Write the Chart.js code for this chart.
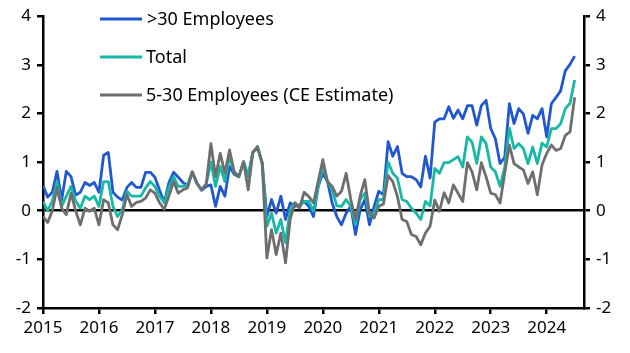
<!DOCTYPE html>
<html>
<head>
<meta charset="utf-8">
<script src="https://cdn.jsdelivr.net/npm/chart.js@4/dist/chart.umd.min.js"></script>
<style>
  html, body { margin: 0; padding: 0; background: #fff; }
  #wrap { width: 630px; height: 353px; }
</style>
</head>
<body>
<div id="wrap"><canvas id="grafico"></canvas></div>
<script>
// Meses desde enero 2015 (0 = ene-2015)
const startYear = 2015;
const yearTicks = [2015, 2016, 2017, 2018, 2019, 2020, 2021, 2022, 2023, 2024];
const yTicks = [-2, -1, 0, 1, 2, 3, 4];

const seriesNames = ['>30 Employees', 'Total', '5-30 Employees (CE Estimate)'];

const big = [
  0.52, 0.28, 0.38, 0.81, 0.22, 0.81, 0.70, 0.32, 0.38, 0.58, 0.52, 0.58,
  0.38, 1.14, 1.20, 0.38, 0.28, 0.22, 0.48, 0.58, 0.48, 0.48, 0.79, 0.79,
  0.69, 0.42, 0.17, 0.58, 0.79, 0.69, 0.58, 0.52, 0.79, 0.56, 0.42, 0.50,
  0.53, 0.09, 0.50, 0.30, 0.91, 0.75, 0.70, 1.00, 0.72, 1.20, 1.30, 0.98,
  -0.12, 0.23, -0.05, 0.30, -0.18, 0.16, 0.09, 0.12, 0.19, 0.09, -0.12, 0.50,
  0.77, 0.60, 0.16, -0.12, -0.29, -0.05, 0.09, -0.49, 0.02, 0.23, -0.29, 0.09,
  0.40, 0.33, 1.42, 1.12, 1.32, 0.77, 0.70, 0.70, 0.64, 0.49, 1.12, 0.67,
  1.82, 1.89, 1.89, 2.14, 1.90, 2.07, 1.89, 2.16, 2.16, 1.76, 2.16, 2.27,
  1.69, 1.48, 0.97, 1.10, 2.20, 1.79, 2.10, 1.99, 1.59, 1.96, 1.89, 2.10,
  1.52, 2.20, 2.33, 2.47, 2.88, 3.01, 3.18
];
const total = [
  0.19, 0.00, 0.20, 0.60, 0.09, 0.30, 0.50, 0.20, 0.05, 0.30, 0.23, 0.30,
  0.09, 0.60, 0.60, 0.09, -0.12, 0.02, 0.40, 0.30, 0.30, 0.30, 0.47, 0.60,
  0.50, 0.30, 0.17, 0.47, 0.70, 0.50, 0.50, 0.53, 0.80, 0.57, 0.43, 0.55,
  1.00, 0.50, 0.91, 0.60, 1.12, 0.78, 0.70, 1.01, 0.70, 1.20, 1.32, 0.98,
  -0.32, -0.05, -0.46, -0.18, -0.66, 0.02, 0.16, 0.09, 0.19, 0.19, -0.01, 0.50,
  0.91, 0.60, 0.43, 0.10, 0.09, 0.23, 0.09, -0.29, 0.23, 0.36, -0.12, -0.05,
  0.23, 0.23, 1.00, 0.77, 0.67, 0.23, 0.19, 0.05, -0.05, -0.18, 0.19, 0.10,
  0.87, 0.77, 0.99, 0.99, 1.05, 1.11, 0.90, 1.52, 1.41, 0.97, 1.52, 1.38,
  0.90, 0.80, 0.50, 0.90, 1.70, 1.28, 1.38, 1.28, 0.97, 1.31, 0.97, 1.39,
  1.31, 1.69, 1.69, 1.79, 2.10, 2.21, 2.69
];
const small = [
  -0.12, -0.24, 0.00, 0.47, 0.05, -0.08, 0.36, 0.00, -0.29, 0.05, -0.01, 0.05,
  -0.29, 0.23, 0.16, -0.29, -0.39, -0.08, 0.33, 0.09, 0.17, 0.19, 0.26, 0.43,
  0.36, 0.16, 0.03, 0.30, 0.60, 0.36, 0.43, 0.47, 0.80, 0.57, 0.43, 0.55,
  1.38, 0.70, 1.18, 0.77, 1.25, 0.80, 0.70, 1.01, 0.43, 1.20, 1.32, 0.98,
  -0.97, -0.39, -0.90, -0.46, -1.07, -0.18, 0.16, 0.05, 0.38, 0.29, 0.16, 0.60,
  1.05, 0.60, 0.50, 0.30, 0.40, 0.77, 0.23, -0.18, 0.30, 0.64, -0.05, -0.15,
  0.09, 0.14, 0.72, 0.60, 0.29, -0.18, -0.22, -0.49, -0.53, -0.70, -0.46, -0.32,
  0.22, -0.01, 0.37, 0.16, 0.53, 0.36, 0.19, 0.99, 0.80, 0.43, 0.99, 0.70,
  0.36, 0.33, 0.16, 0.77, 1.35, 0.97, 0.90, 0.84, 0.56, 0.80, 0.33, 0.94,
  1.18, 1.35, 1.24, 1.28, 1.55, 1.62, 2.33
];

const colores = ['#2157D0', '#17B8A6', '#6E6E6E'];
const FONT = '"Noto Sans", "Open Sans", sans-serif';

function toPoints(arr) {
  return arr.map((v, i) => ({ x: i, y: v }));
}

// leyenda a mano, arriba a la izquierda
const leyenda = {
  id: 'leyenda',
  afterDraw(chart) {
    const ctx = chart.ctx;
    const ys = [19, 57, 95];
    ctx.save();
    ctx.font = '18px ' + FONT;
    ctx.textBaseline = 'middle';
    seriesNames.forEach((name, i) => {
      ctx.strokeStyle = colores[i];
      ctx.lineWidth = 3;
      ctx.beginPath();
      ctx.moveTo(100, ys[i]);
      ctx.lineTo(142, ys[i]);
      ctx.stroke();
      ctx.fillStyle = '#000';
      ctx.fillText(name, i === 0 ? 147 : 146, ys[i] + 1);
    });
    ctx.restore();
  }
};

const ejeY = (pos) => ({
  position: pos,
  min: -2,
  max: 4,
  afterBuildTicks: (s) => { s.ticks = yTicks.map(v => ({ value: v })); },
  afterFit: (s) => { s.width = pos === 'left' ? 43 : 46; },
  border: { color: '#000', width: 2.5 },
  grid: {
    drawOnChartArea: pos === 'left',
    color: (c) => (c.tick && c.tick.value === 0) ? '#000' : 'rgba(0,0,0,0)',
    tickColor: '#000',
    tickLength: 6,
    lineWidth: 2.5
  },
  ticks: {
    color: '#000',
    padding: 6,
    font: { size: 17, family: FONT }
  }
});

new Chart(document.getElementById('grafico'), {
  type: 'line',
  data: {
    datasets: [
      { label: seriesNames[0], data: toPoints(big), borderColor: colores[0], order: 3 },
      { label: seriesNames[1], data: toPoints(total), borderColor: colores[1], order: 2 },
      { label: seriesNames[2], data: toPoints(small), borderColor: colores[2], order: 1 }
    ]
  },
  options: {
    responsive: true,
    maintainAspectRatio: false,
    animation: false,
    layout: { padding: { top: 15, right: 0, left: 0, bottom: 0 } },
    elements: {
      point: { radius: 0 },
      line: { borderWidth: 2.8, tension: 0, borderJoinStyle: 'round' }
    },
    plugins: {
      legend: { display: false },
      tooltip: { enabled: false }
    },
    scales: {
      x: {
        type: 'linear',
        min: 0,
        max: 116,
        afterBuildTicks: (s) => { s.ticks = yearTicks.map(y => ({ value: (y - startYear) * 12 })); },
        afterFit: (s) => { s.height = 45; },
        border: { color: '#000', width: 2.5 },
        grid: { drawOnChartArea: false, tickColor: '#000', tickLength: 6, lineWidth: 2.5 },
        ticks: {
          color: '#000',
          maxRotation: 0,
          padding: 4,
          font: { size: 17, family: FONT },
          callback: (v) => String(startYear + v / 12)
        }
      },
      y: ejeY('left'),
      y2: ejeY('right')
    }
  },
  plugins: [leyenda]
});
</script>
</body>
</html>
